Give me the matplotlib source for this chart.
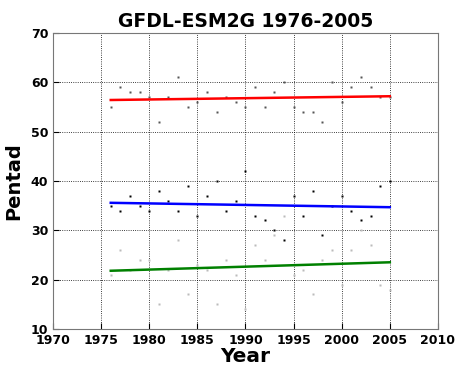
import numpy as np
import matplotlib
matplotlib.use('Agg')
import matplotlib.pyplot as plt

years = np.arange(1976, 2006)
# upper group (red fit)
upper = [55, 59, 58, 58, 57, 52, 57, 61, 55, 56, 58, 54, 57, 56, 55,
         59, 55, 58, 60, 55, 54, 54, 52, 60, 56, 59, 61, 59, 57, 57]
# middle group (blue fit)
middle = [35, 34, 37, 35, 34, 38, 36, 34, 39, 33, 37, 40, 34, 36, 42,
          33, 32, 30, 28, 37, 33, 38, 29, 35, 37, 34, 32, 33, 39, 40]
# lower group (green fit)
lower = [21, 26, 22, 24, 24, 15, 22, 28, 17, 23, 22, 15, 24, 21, 14,
         27, 24, 29, 33, 21, 22, 17, 24, 26, 19, 26, 30, 27, 19, 18]

fig = plt.figure(figsize=(4.55, 3.65), dpi=100)
ax = fig.add_axes([0.1165, 0.0986, 0.846, 0.811])

ax.plot(years, upper, 's', color='#555555', ms=1.5, mec='none')
ax.plot(years, middle, 's', color='black', ms=1.5, mec='none')
ax.plot(years, lower, 's', color='#bbbbbb', ms=1.5, mec='none')

# linear fits
for vals, c in [(upper, 'red'), (middle, 'blue'), (lower, 'green')]:
    b, a = np.polyfit(years, vals, 1)
    ax.plot(years, a + b * years, color=c, lw=1.8)

ax.set_xlim(1970, 2010)
ax.set_ylim(10, 70)
ax.set_xticks(np.arange(1970, 2011, 5))
ax.set_yticks(np.arange(10, 71, 10))
ax.grid(True, color='black', linestyle=':', linewidth=0.6)
ax.tick_params(labelsize=9, direction='in', length=4)
for lab in ax.get_xticklabels() + ax.get_yticklabels():
    lab.set_fontweight('bold')
for s in ax.spines.values():
    s.set_color('#777777')
ax.set_xlabel('Year', fontsize=14.5, fontweight='bold', labelpad=0)
ax.set_ylabel('Pentad', fontsize=14, fontweight='bold', labelpad=5)
ax.set_title('GFDL-ESM2G 1976-2005', fontsize=13.5, fontweight='bold', pad=4)

fig.savefig('out.png', dpi=100)
